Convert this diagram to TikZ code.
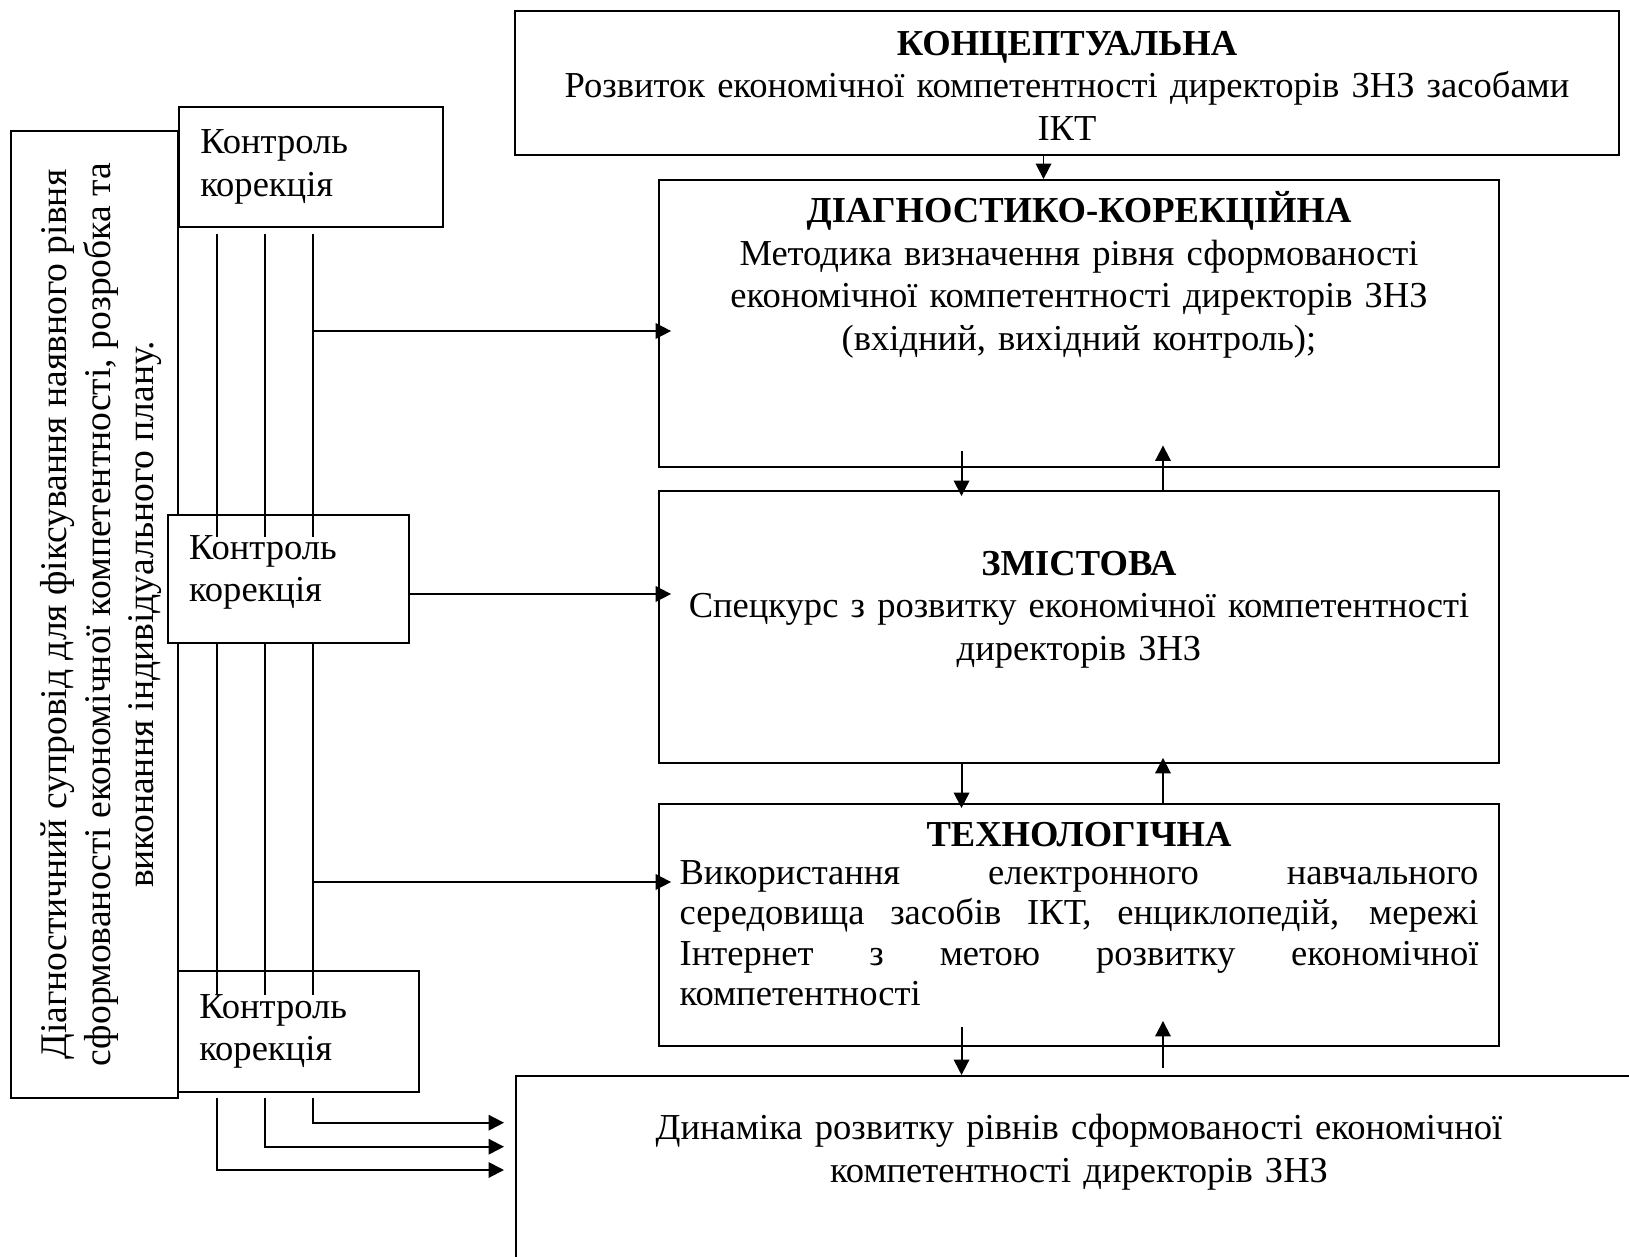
\documentclass[tikz,border=0pt]{standalone}
\usepackage{fontspec}
\setmainfont{Liberation Serif}
\usetikzlibrary{arrows.meta}
\newcommand{\boxstrut}{\rule{0pt}{0.73cm}}

\begin{document}
\begin{tikzpicture}[x=0.02cm, y=-0.02cm, line width=1.1pt,
    font=\fontsize{20.8}{24.2}\selectfont,
    box/.style={draw, fill=white, inner sep=0pt},
    kbox/.style={draw, fill=white, inner xsep=0.42cm, inner ysep=0pt, align=left},
    txt/.style={inner sep=0pt, align=center, anchor=north},
    arr/.style={-{Triangle[length=0.31cm,width=0.31cm]}}]
  \useasboundingbox (0,0) rectangle (1629,1257);

  % left column
  \node[box, minimum width=3.34cm, minimum height=19.34cm] (supr) at (94.5,614.5) {};
  \node[txt, rotate=90, font=\fontsize{21.4}{24.5}\selectfont] (suprT) at (29.5,614.5) {\boxstrut Діагностичний супровід для фіксування наявного рівня\\
    сформованості економічної компетентності, розробка та\\ виконання індивідуального плану.};
  \node[kbox, text width=4.44cm, minimum height=2.4cm] (k1) at (311.25,167) {Контроль\\корекція};
  \node[kbox, text width=3.98cm, minimum height=2.56cm, text depth=1.27cm] (k2) at (288.5,579) {Контроль\\корекція};
  \node[kbox, text width=3.98cm, minimum height=2.42cm] (k3) at (298.75,1031.5) {Контроль\\корекція};

  % right column
  \node[box, minimum width=22.08cm, minimum height=2.88cm] (konc) at (1067,83) {};
  \node[box, minimum width=16.8cm, minimum height=5.74cm] (diag) at (1079,323.5) {};
  \node[box, minimum width=16.8cm, minimum height=5.44cm] (zm) at (1079,627) {};
  \node[box, minimum width=16.8cm, minimum height=4.84cm] (tech) at (1079,925) {};
  \node[box, anchor=north west, minimum width=22.8cm, minimum height=4.2cm] (dyn) at (515,1075) {};

  \node[txt, text width=21cm] (koncT) at ([yshift=-0.15cm]konc.north) {\boxstrut\textbf{КОНЦЕПТУАЛЬНА}\\
    Розвиток економічної компетентності директорів ЗНЗ засобами\\ ІКТ};
  \node[txt, text width=16cm] (diagT) at ([yshift=-0.12cm]diag.north) {\boxstrut\textbf{ДІАГНОСТИКО-КОРЕКЦІЙНА}\\
    Методика визначення рівня сформованості\\ економічної компетентності директорів ЗНЗ\\
    (вхідний, вихідний контроль);};
  \node[txt, text width=16cm] (zmT) at ([yshift=-0.95cm]zm.north) {\boxstrut\textbf{ЗМІСТОВА}\\
    Спецкурс з розвитку економічної компетентності\\ директорів ЗНЗ};
  \node[txt, text width=16cm] (techT) at ([yshift=-0.11cm]tech.north) {\boxstrut\textbf{ТЕХНОЛОГІЧНА}};
  \node[txt, text width=15.98cm, align=justify, font=\fontsize{20.8}{23.05}\selectfont] (techP)
    at ([yshift=-0.87cm]tech.north) {\boxstrut Використання електронного навчального\linebreak
    середовища засобів ІКТ, енциклопедій, мережі\linebreak
    Інтернет з метою розвитку економічної\linebreak компетентності};
  \node[txt, text width=21cm, yshift=-0.55cm] (dynT) at (dyn.north -| zm.north) {\boxstrut Динаміка розвитку рівнів сформованості економічної\\
    компетентності директорів ЗНЗ};

  % arrows between the levels
  \coordinate (dynIn) at (tech.south |- dyn.north);
  \draw[arr] ([xshift=-0.47cm]konc.south) -- ([xshift=-0.47cm]konc.south |- diag.north);
  \draw[arr] ([xshift=-2.35cm,yshift=0.34cm]diag.south) -- ([xshift=-2.35cm,yshift=-0.12cm]zm.north);
  \draw[arr] ([xshift=1.68cm]zm.north) -- ([xshift=1.68cm,yshift=0.45cm]diag.south);
  \draw[arr] ([xshift=-2.35cm]zm.south) -- ([xshift=-2.35cm,yshift=-0.1cm]tech.north);
  \draw[arr] ([xshift=1.68cm]tech.north) -- ([xshift=1.68cm,yshift=0.12cm]zm.south);
  \draw[arr] ([xshift=-2.35cm,yshift=0.4cm]tech.south) -- ([xshift=-2.35cm]dynIn);
  \draw[arr] ([xshift=1.68cm,yshift=0.14cm]dynIn) -- ([xshift=1.68cm,yshift=0.52cm]tech.south);

  % control lines
  \foreach \x/\y [count=\i] in {216.7/1170,265/1146.7,313.3/1122.7}{
    \coordinate (a\i) at (\x,234);
    \coordinate (b\i) at (\x,537);
    \coordinate (c\i) at (\x,995);
    \coordinate (d\i) at (\x,1098);
    \coordinate (e\i) at (504,\y);
    \draw (a\i) -- (b\i);
    \draw (k2.south -| a\i) -- (c\i);
    \draw[arr] (d\i) |- (e\i);
  }
  \coordinate (p1) at (313.3,331);
  \coordinate (p2) at (409,594);
  \coordinate (p3) at (313.3,882);
  \foreach \p/\b in {p1/diag,p2/zm,p3/tech}
    \draw[arr] (\p) -- ([xshift=0.26cm]\b.west |- \p);
\end{tikzpicture}
\end{document}
